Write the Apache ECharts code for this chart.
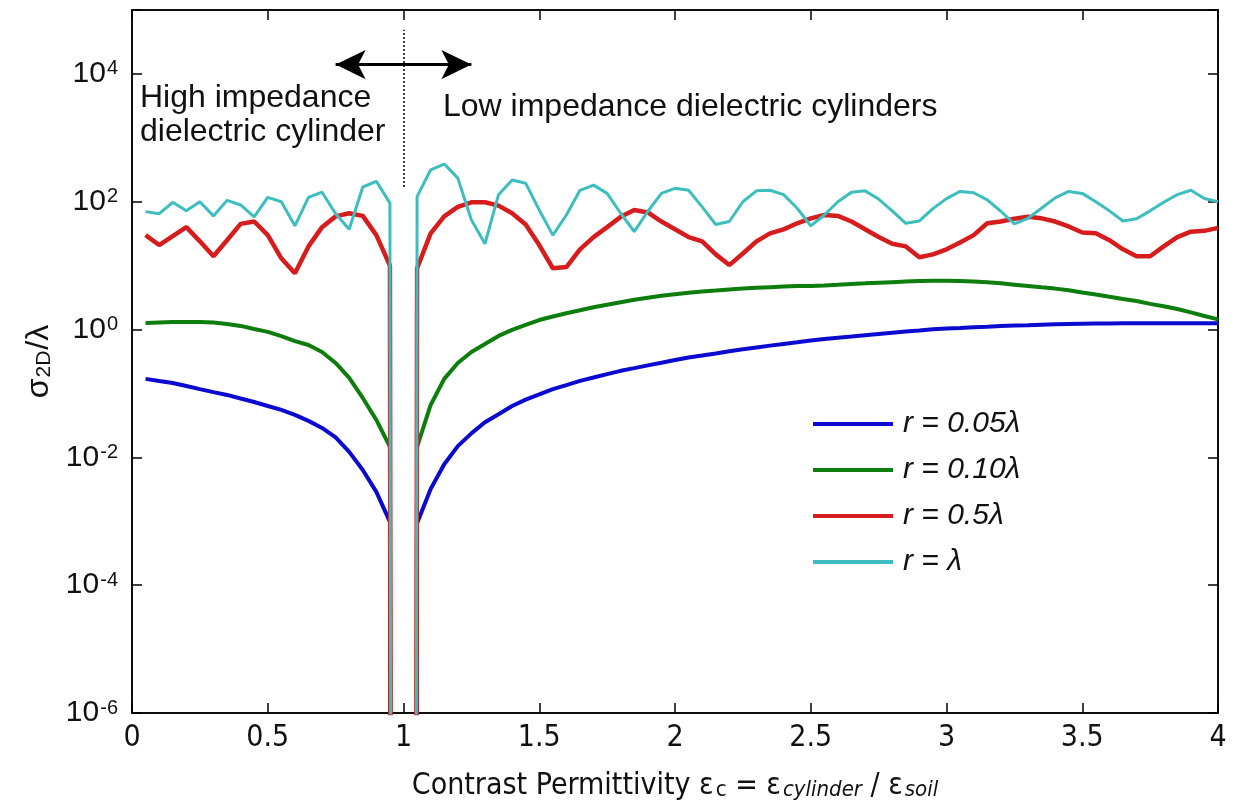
<!DOCTYPE html>
<html><head><meta charset="utf-8">
<script src="https://cdn.jsdelivr.net/npm/echarts@6/dist/echarts.min.js"></script>
<style>html,body{margin:0;padding:0;background:#fff}#c{width:1238px;height:812px}</style>
</head><body><div id="c"></div>
<script>
// Contrast permittivity samples
const xs = [0.05,0.1,0.15,0.2,0.25,0.3,0.35,0.4,0.45,0.5,0.55,0.6,0.65,0.7,0.75,0.8,0.85,0.9,0.95,0.96,
  1.04,1.05,1.1,1.15,1.2,1.25,1.3,1.35,1.4,1.45,1.5,1.55,1.6,1.65,1.7,1.75,1.8,1.85,1.9,1.95,2,
  2.05,2.1,2.15,2.2,2.25,2.3,2.35,2.4,2.45,2.5,2.55,2.6,2.65,2.7,2.75,2.8,2.85,2.9,2.95,3,
  3.05,3.1,3.15,3.2,3.25,3.3,3.35,3.4,3.45,3.5,3.55,3.6,3.65,3.7,3.75,3.8,3.85,3.9,3.95,4];
// sigma_2D / lambda for each radius (1e-30 = no scattering at contrast 1)
const r005 = [0.169,0.157,0.146,0.131,0.117,0.105,0.0948,0.0835,0.0736,0.0637,0.0552,0.0461,0.0372,0.0289,0.0205,0.0122,0.00635,0.00288,0.00098,1e-30,
  1e-30,0.00093,0.0032,0.0078,0.0150,0.0237,0.0354,0.0474,0.0635,0.080,0.097,
  0.117,0.135,0.157,0.178,0.201,0.226,0.249,0.275,0.303,0.334,
  0.366,0.393,0.423,0.456,0.490,0.525,0.560,0.596,0.633,0.675,
  0.713,0.745,0.777,0.814,0.853,0.891,0.931,0.968,1.01,1.04,
  1.06,1.09,1.11,1.14,1.155,1.17,1.19,1.21,1.22,1.23,
  1.24,1.24,1.25,1.25,1.25,1.25,1.25,1.25,1.25,1.25];
const r010 = [1.27,1.29,1.31,1.31,1.31,1.29,1.22,1.14,1.02,0.92,0.79,0.66,0.574,0.446,0.300,0.175,0.085,0.0385,0.0146,1e-30,
  1e-30,0.0146,0.066,0.169,0.300,0.446,0.595,0.794,0.986,1.18,1.41,
  1.60,1.80,2.00,2.23,2.45,2.68,2.93,3.15,3.38,3.58,
  3.77,3.95,4.08,4.23,4.37,4.49,4.61,4.71,4.78,4.80,
  4.90,5.02,5.17,5.28,5.40,5.52,5.64,5.74,5.82,5.80,
  5.76,5.66,5.48,5.28,5.04,4.81,4.58,4.37,4.12,3.81,
  3.53,3.26,3.01,2.79,2.52,2.31,2.10,1.86,1.63,1.44];
const r05 = [30,21,29,40,24,14,25,45,49,30,13,7.6,20,40,59,66,60,30,10,1e-30,
  1e-30,9.1,32,59,83,98,98,87,66,44,21,
  9.1,9.5,18,28,40,58,74,68,49,37,
  28,24,15,10.2,15.5,24,32,37,46,55,
  62,60,49,37,28,22,20,13.5,15,18,
  23,30,46,49,54,58,55,49,41,33,
  32,25,18,14,14,20,28,34,35,39];
const r1 = [70,65,98,72,100,60,105,89,58,117,100,42,117,141,65,37,170,209,95,1e-30,
  1e-30,120,316,389,234,52,22,129,219,195,74,
  30,62,151,182,135,66,34,71,135,162,
  151,83,44,49,100,148,151,129,79,42,
  62,100,141,148,110,72,46,50,78,112,
  145,138,107,71,45,55,79,115,145,135,
  100,72,50,54,72,98,129,151,112,100];
const seriesNames = ['r = 0.05\u03bb','r = 0.10\u03bb','r = 0.5\u03bb','r = \u03bb'];
const seriesColors = ['#0a0ad0','#0d7d0d','#d61c1c','#3dbdbd'];
const yTickExponents = [-6,-4,-2,0,2,4];

const narrow = "'Liberation Sans Narrow','DejaVu Sans Condensed',sans-serif";
const sans = "'Liberation Sans',Arial,sans-serif";
const chart = echarts.init(document.getElementById('c'), null, {renderer:'canvas'});
const tick = () => ({show:true, inside:true, length:10, lineStyle:{color:'#000', width:1.5}});
const lineAx = () => ({show:true, onZero:false, lineStyle:{color:'#000', width:1.5}});
const allData = [r005, r010, r05, r1];
const widths = [4, 4, 4.5, 3];
const series = allData.map((arr, k) => ({
  name: seriesNames[k], type:'line', showSymbol:false, symbol:'none',
  data: xs.map((x, i) => [x, arr[i]]),
  lineStyle:{color:seriesColors[k], width:widths[k]}, itemStyle:{color:seriesColors[k]},
  z: 2 + k, clip: true
}));
series.push({
  type:'line', data:[], xAxisIndex:0, yAxisIndex:0, silent:true,
  markLine:{silent:true, animation:false, label:{show:false},
    data:[
      [{coord:[0.75, 1.4e4], symbol:'arrow', symbolSize:[22,30], lineStyle:{color:'#000', width:3, type:'solid'}},
       {coord:[1.25, 1.4e4], symbol:'arrow', symbolSize:[22,30]}],
      [{coord:[1, 170], symbol:'none', lineStyle:{color:'#000', width:1.5, type:[2,2]}},
       {coord:[1, 4.9e4], symbol:'none'}]
    ]}
});
chart.setOption({
  animation:false,
  backgroundColor:'#fff',
  grid:{left:132, right:20, top:10, bottom:99, show:true, borderColor:'#000', borderWidth:1.5},
  legend:{orient:'vertical', left:813, top:409, padding:0, itemWidth:80, itemHeight:4, itemGap:16, icon:'rect',
    data:seriesNames,
    textStyle:{fontSize:30, fontStyle:'italic', fontFamily:sans, color:'#111', lineHeight:24, padding:[0,0,0,5]}},
  xAxis:[{type:'value', min:0, max:4, interval:0.5,
    axisLine:lineAx(), axisTick:tick(), splitLine:{show:false},
    axisLabel:{color:'#111', fontSize:30, fontFamily:narrow, margin:10},
    name:'{t|Contrast Permittivity \u03b5}{c|c}{t| = \u03b5}{i|cylinder}{t| / \u03b5}{i|soil}',
    nameLocation:'middle', nameGap:58,
    nameTextStyle:{color:'#111', rich:{
      t:{fontSize:30, fontFamily:narrow, color:'#111', lineHeight:30, verticalAlign:'top'},
      c:{fontSize:22, fontFamily:narrow, color:'#111', lineHeight:22, padding:[15,0,0,2], verticalAlign:'bottom'},
      i:{fontSize:22, fontFamily:narrow, fontStyle:'italic', color:'#111', lineHeight:22, padding:[15,0,0,2], verticalAlign:'bottom'}
    }}},
    {type:'value', position:'top', min:0, max:4, interval:0.5,
    axisLine:lineAx(), axisTick:tick(), splitLine:{show:false}, axisLabel:{show:false}}],
  yAxis:[{type:'log', logBase:10, min:1e-6, max:1e5, interval:2, position:'left',
    axisLine:lineAx(), axisTick:tick(), splitLine:{show:false}, minorTick:{show:false},
    axisLabel:{margin:14, formatter:(v) => {
      const e = Math.round(Math.log10(v));
      if (yTickExponents.indexOf(e) < 0) return '';
      return '{b|10}{s|' + e + '}';
    }, rich:{
      b:{fontSize:30, fontFamily:sans, color:'#111', lineHeight:30, verticalAlign:'bottom'},
      s:{fontSize:20, fontFamily:sans, color:'#111', lineHeight:20, padding:[0,0,15,1], verticalAlign:'top'}
    }},
    name:'{a|\u03c3}{s|2D}{a|/\u03bb}', nameLocation:'middle', nameGap:76, nameRotate:90,
    nameTextStyle:{rich:{
      a:{fontSize:32, fontFamily:sans, color:'#111', lineHeight:32, verticalAlign:'top'},
      s:{fontSize:21, fontFamily:sans, color:'#111', lineHeight:21, padding:[18,1,0,1], verticalAlign:'bottom'}
    }}},
    {type:'log', logBase:10, min:1e-6, max:1e5, interval:2, position:'right',
    axisLine:lineAx(), axisTick:tick(), splitLine:{show:false}, axisLabel:{show:false}}],
  graphic:[
    {type:'text', left:140, top:81, silent:true,
     style:{text:'High impedance\ndielectric cylinder', fontSize:32, fontFamily:sans, fill:'#111', lineHeight:34}},
    {type:'text', left:443, top:90, silent:true,
     style:{text:'Low impedance dielectric cylinders', fontSize:32, fontFamily:sans, fill:'#111', lineHeight:34}}
  ],
  series: series
});
</script></body></html>
